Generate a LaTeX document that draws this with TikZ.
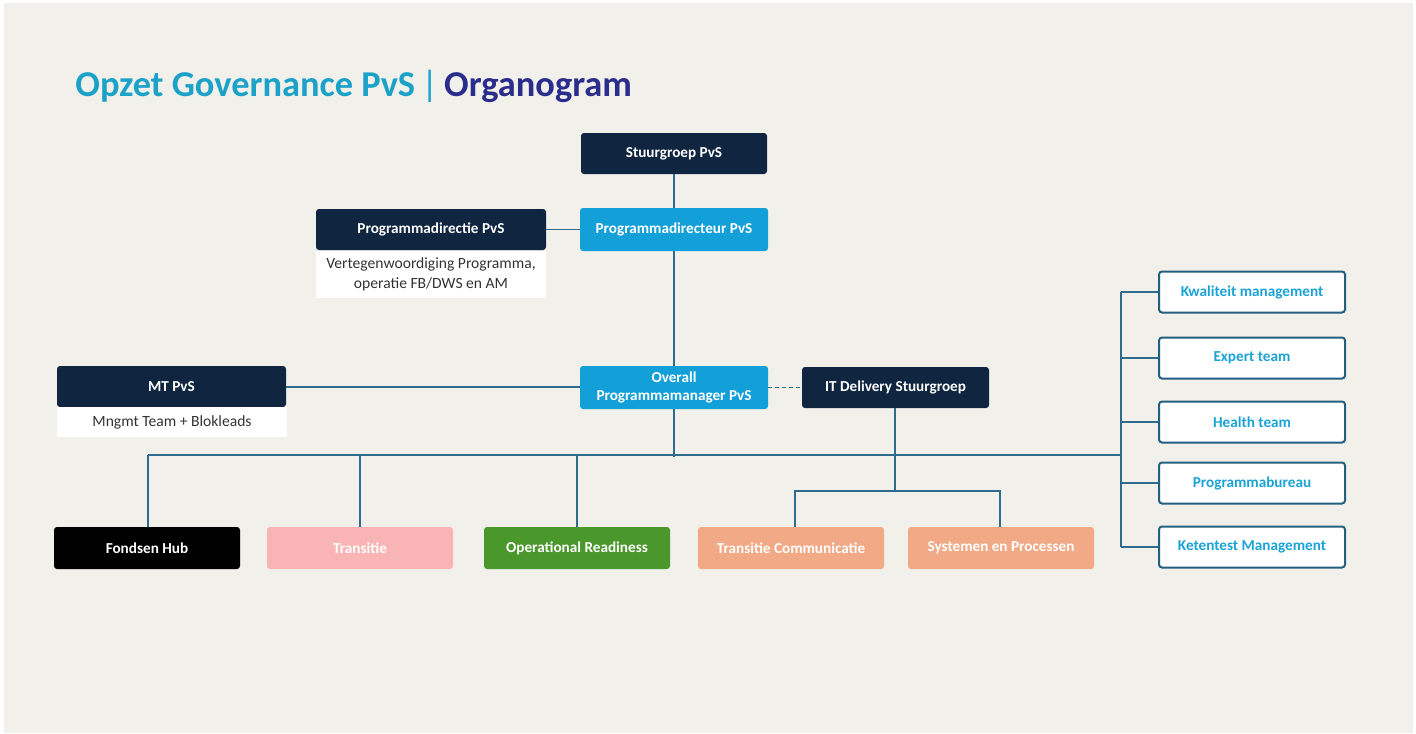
\documentclass[tikz,border=0pt]{standalone}
\usepackage{fontspec}
\setmainfont{Carlito}
\definecolor{bg}{HTML}{F2F0EB}
\definecolor{navy}{HTML}{0F2540}
\definecolor{cyanbox}{HTML}{139FD8}
\definecolor{titlecyan}{HTML}{1CA2C9}
\definecolor{titleblue}{HTML}{2A2D8C}
\definecolor{linec}{HTML}{2F6B8C}
\definecolor{rborder}{HTML}{235F7E}
\definecolor{rtext}{HTML}{1AA3D6}
\definecolor{notetext}{HTML}{333333}
\definecolor{pinkbox}{HTML}{F9B5B5}
\definecolor{greenbox}{HTML}{4A972C}
\definecolor{salmon}{HTML}{F2A985}
\tikzset{
  box/.style={rounded corners=1.5pt, inner sep=0pt, font=\fontsize{7.6}{9.2}\selectfont\bfseries, text=white, align=center},
  navybox/.style={box, fill=navy, minimum width=93pt, minimum height=20.5pt},
  cyanb/.style={box, fill=cyanbox, minimum width=94pt, minimum height=21.5pt},
  bottombox/.style={box, minimum width=93pt, minimum height=21pt},
  rightbox/.style={box, fill=white, draw=rborder, line width=1pt, text=rtext, minimum width=93pt, minimum height=20.5pt},
  notebox/.style={fill=white, inner sep=0pt, font=\fontsize{7.8}{10}\selectfont, text=notetext, align=center, minimum width=115pt},
  conn/.style={draw=linec, line width=0.75pt},
}
\begin{document}
\begin{tikzpicture}[x=0.5pt, y=-0.5pt]
\useasboundingbox (0,0) rectangle (1416,733);
\fill[white] (0,0) rectangle (1416,733);
\fill[bg] (4,3) rectangle (1413,733);

% title
\node[anchor=base west, inner sep=0pt, font=\fontsize{18.2}{21}\selectfont\bfseries] (title) at (75,97)
  {\textcolor{titlecyan}{Opzet Governance PvS}\,\textcolor{titlecyan}{\fontseries{m}\selectfont|}\,\textcolor{titleblue}{Organogram}};

% nodes
\node[navybox] (sg) at (674,153.5) {Stuurgroep PvS};
\node[cyanb] (pd) at (674,229.5) {Programmadirecteur PvS};
\node[navybox, minimum width=115pt] (pdie) at (431,229.5) {Programmadirectie PvS};
\node[notebox, minimum height=23.5pt] (pdienote) at (431,274) {Vertegenwoordiging Programma,\\operatie FB/DWS en AM};
\node[cyanb] (op) at (674,387.5) {Overall\\Programmamanager PvS};
\node[navybox, minimum width=114.5pt] (mt) at (171.5,386.5) {MT PvS};
\node[notebox, minimum height=15pt] (mtnote) at (172,422) {Mngmt Team + Blokleads};
\node[navybox, minimum width=93.5pt] (it) at (895.5,387.5) {IT Delivery Stuurgroep};

\node[bottombox, fill=black] (fh) at (147,548) {Fondsen Hub};
\node[bottombox, fill=pinkbox] (tr) at (360,548) {Transitie};
\node[bottombox, fill=greenbox] (or) at (577,548) {Operational Readiness};
\node[bottombox, fill=salmon] (tc) at (791,548) {Transitie Communicatie};
\node[bottombox, fill=salmon] (sp) at (1001,548) {Systemen en Processen};

\node[rightbox] (r1) at (1252,292) {Kwaliteit management};
\node[rightbox] (r2) at (1252,358) {Expert team};
\node[rightbox] (r3) at (1252,422) {Health team};
\node[rightbox] (r4) at (1252,483) {Programmabureau};
\node[rightbox] (r5) at (1252,547) {Ketentest Management};

% coordinates
\coordinate (busL) at (148,455);
\coordinate (busR) at (1121,455);
\coordinate (opbus) at (674,457);
\coordinate (rtop) at (1121,292);
\coordinate (rbot) at (1121,547);
\coordinate (itmid) at (895,491);
\coordinate (itL) at (795,491);
\coordinate (itR) at (1000,491);
\coordinate (mtline) at (286,387);

% connectors
\draw[conn] (sg) -- (pd);
\draw[conn] (pdie) -- (pd);
\draw[conn] (pd) -- (op);
\draw[conn] (mtline) -- (mtline -| op.west);
\draw[conn, dashed, dash pattern=on 2pt off 1.5pt] (op) -- (it);
\draw[conn] (op.south) -- (opbus);
\draw[conn] (busL) -- (busR);
\draw[conn] (busL) -- (busL |- fh.north);
\draw[conn] (busL -| tr) -- (tr.north);
\draw[conn] (busL -| or) -- (or.north);
\draw[conn] (it.south -| itmid) -- (itmid);
\draw[conn] (itL |- tc.north) -- (itL) -- (itR) -- (itR |- sp.north);
\draw[conn] (rtop) -- (rbot);
\draw[conn] (rtop) -- (r1.west);
\draw[conn] (rtop |- r2) -- (r2.west);
\draw[conn] (rtop |- r3) -- (r3.west);
\draw[conn] (rtop |- r4) -- (r4.west);
\draw[conn] (rbot) -- (r5.west);
\end{tikzpicture}
\end{document}
